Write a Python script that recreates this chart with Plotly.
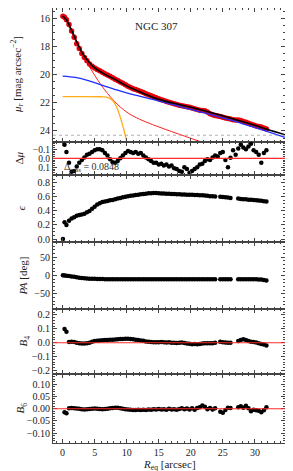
import plotly.graph_objects as go
from plotly.subplots import make_subplots

# ---------------- data ----------------
R = [0.05, 0.3, 0.6, 1.0, 1.4, 1.8, 2.2, 2.6, 3.0, 3.4, 3.8, 4.2, 4.6, 5.0, 5.4, 5.8,
     6.2, 6.6, 7.0, 7.4, 7.8, 8.2, 8.6, 9.0, 9.4, 9.8, 10.2, 10.6, 11.0, 11.4, 11.8,
     12.2, 12.6, 13.0, 13.4, 13.8, 14.2, 14.6, 15.0, 15.4, 15.8, 16.2, 16.6, 17.0,
     17.4, 17.8, 18.2, 18.6, 19.0, 19.4, 19.8, 20.2, 20.6, 21.0, 21.4, 21.8, 22.2,
     22.6, 23.0, 23.4, 23.8, 24.2, 24.6, 25.0, 25.4, 25.8, 26.2, 26.6, 27.0, 27.4,
     27.8, 28.2, 28.6, 29.0, 29.4, 29.8, 30.2, 30.6, 31.0, 31.4, 31.8]

mu_data = [15.85, 15.92, 16.1, 16.45, 16.9, 17.35, 17.8, 18.15, 18.5, 18.78, 19.02,
           19.25, 19.4, 19.52, 19.63, 19.73, 19.83, 19.93, 20.03, 20.12, 20.22, 20.32,
           20.42, 20.52, 20.62, 20.72, 20.82, 20.92, 21.0, 21.06, 21.13, 21.2, 21.27,
           21.35, 21.42, 21.5, 21.57, 21.64, 21.71, 21.78, 21.84, 21.9, 21.96, 22.02,
           22.07, 22.12, 22.17, 22.21, 22.24, 22.28, 22.32, 22.37, 22.42, 22.47, 22.52,
           22.55, 22.57, 22.66, 22.78, 22.85, 22.9, 22.94, 22.98, 23.03, 23.08, 23.12,
           23.15, 23.2, 23.22, 23.22, 23.25, 23.32, 23.38, 23.45, 23.52, 23.58, 23.64,
           23.69, 23.72, 23.78, 23.86]

model_R = [0, 0.5, 1, 1.5, 2, 2.5, 3, 3.5, 4, 5, 6, 7, 8, 10, 12, 14, 16, 18, 20,
           22, 24, 26, 28, 30, 32, 34.7]
model_mu = [15.85, 16.05, 16.45, 16.95, 17.45, 17.95, 18.4, 18.75, 19.05, 19.52, 19.82,
            20.07, 20.3, 20.8, 21.22, 21.6, 21.88, 22.1, 22.32, 22.55, 22.8, 23.06,
            23.33, 23.6, 23.9, 24.27]

disk_R = [0, 2, 4, 6, 8, 10, 12, 14, 16, 18, 20, 22, 24, 26, 28, 30, 32, 34.7]
disk_mu = [20.1, 20.2, 20.42, 20.73, 21.02, 21.3, 21.53, 21.76, 21.98, 22.22, 22.47,
           22.7, 22.95, 23.2, 23.47, 23.75, 24.05, 24.45]

bulge_R = [0, 0.5, 1, 1.5, 2, 3, 4, 5, 6, 7, 8, 9, 10, 11, 12, 13, 14, 15, 16, 17,
           18, 19, 20, 21, 22]
bulge_mu = [15.9, 16.15, 16.6, 17.1, 17.6, 18.5, 19.3, 20.05, 20.73, 21.33, 21.85,
            22.3, 22.66, 22.94, 23.16, 23.36, 23.54, 23.71, 23.88, 24.04, 24.2, 24.36,
            24.52, 24.68, 24.84]

bar_R = [0, 2, 4, 6, 6.5, 7, 7.5, 8, 8.5, 9, 9.5, 10.1]
bar_mu = [21.56, 21.56, 21.56, 21.57, 21.58, 21.62, 21.72, 21.95, 22.38, 23.02, 23.82,
          24.9]

sky_limit = 24.3
rms_text = "0.0848"

dmu = [None, -0.15, -0.07, 0.05, 0.15, 0.14, 0.09, 0.05, 0.02, -0.01, -0.04, -0.05,
       -0.07, -0.09, -0.1, -0.1, -0.09, -0.06, -0.03, 0.01, 0.045, 0.05, 0.03, 0.0,
       -0.03, -0.06, -0.08, -0.07, -0.06, -0.07, -0.05, -0.06, -0.03, -0.01, 0.01,
       0.03, 0.05, 0.05, 0.07, 0.06, 0.08, 0.07, 0.09, 0.08, 0.11, 0.12, 0.14, 0.15,
       0.1, 0.12, 0.16, 0.14, 0.12, 0.1, 0.07, 0.06, 0.03, 0.01, 0.02, -0.01, -0.03,
       -0.02, -0.06, -0.07, 0.02, 0.1, -0.005, -0.09, -0.04, -0.11, -0.15, -0.12,
       -0.1, -0.13, -0.16, -0.09, -0.07, -0.04, 0.05, -0.06, -0.09]

eps = [0.0, 0.24, 0.2, 0.26, 0.29, 0.31, 0.33, 0.34, 0.35, 0.36, 0.38, 0.4, 0.43,
       0.46, 0.49, 0.51, 0.525, 0.535, 0.54, 0.55, 0.555, 0.565, 0.575, 0.585, 0.595,
       0.6, 0.61, 0.615, 0.62, 0.625, 0.63, 0.635, 0.64, 0.645, 0.65, 0.652, 0.655,
       0.653, 0.65, 0.648, 0.646, 0.645, 0.643, 0.642, 0.64, 0.638, 0.636, 0.634,
       0.632, 0.63, 0.63, 0.628, 0.626, 0.625, 0.624, 0.622, 0.62, 0.615, 0.61, 0.608,
       0.605, None, 0.6, 0.598, 0.595, 0.59, 0.585, None, None, 0.575, 0.57, 0.565,
       0.565, 0.56, 0.558, 0.556, 0.553, 0.548, 0.543, 0.538, 0.535]

pa = [0.5, 0.0, -0.5, -1.5, -2.5, -3.5, -5, -6, -7, -7.5, -8, -8.5, -9, -9, -9.5,
      -9.5, -9.5, -9.8, -9.8, -10, -10, -10, -10, -10, -10, -10, -10, -10, -10, -10,
      -10, -10, -10, -10, -10, -10, -10, -10, -10, -10, -10, -10, -10, -10, -10, -10,
      -10, -10, -10, -10, -10, -10, -10, -10, -10, -10, -10, -10, -10, -10, -10, None,
      -10, -10, -10, -10, -10, None, None, -10, -10, -10, -10, -10, -10, -10, -10,
      -10.5, -11, -12, -13.5]

b4 = [None, 0.1, 0.08, 0.005, 0.008, 0.005, 0.0, -0.003, -0.005, -0.005, -0.003,
      0.0, 0.008, 0.012, 0.015, 0.017, 0.018, 0.02, 0.02, 0.021, 0.022, 0.024, 0.026,
      0.027, 0.028, 0.029, 0.029, 0.028, 0.025, 0.022, 0.02, 0.017, 0.014, 0.01,
      0.008, 0.006, 0.004, 0.003, 0.004, 0.005, 0.003, 0.002, 0.003, 0.001, 0.0,
      -0.002, 0.0, 0.002, -0.002, -0.005, -0.007, -0.01, -0.008, -0.01, -0.008,
      -0.005, -0.004, -0.003, -0.004, -0.003, 0.0, None, 0.008, 0.004, 0.002, 0.0,
      0.0, None, None, 0.012, 0.02, 0.025, 0.02, 0.012, 0.008, 0.005, 0.002, -0.003,
      -0.008, -0.012, -0.02]

b6 = [None, -0.014, -0.018, 0.002, 0.003, 0.002, 0.001, 0.0, -0.002, -0.003, -0.002,
      -0.001, 0.0, 0.001, 0.0, -0.001, -0.002, -0.001, 0.0, 0.002, 0.003, 0.004,
      0.004, 0.002, 0.0, -0.002, -0.003, -0.004, -0.005, -0.005, -0.004, -0.005,
      -0.004, -0.005, -0.003, -0.004, -0.002, -0.003, -0.001, -0.003, -0.002, -0.004,
      0.0, -0.003, -0.002, -0.004, -0.001, 0.002, -0.002, 0.001, -0.003, 0.002,
      -0.004, 0.003, 0.006, 0.013, 0.008, -0.002, 0.003, -0.003, 0.002, None, -0.012,
      -0.016, -0.005, 0.004, 0.003, None, None, 0.006, 0.01, 0.004, 0.012, 0.002,
      -0.01, -0.004, -0.006, -0.008, -0.014, -0.006, 0.006]

x_ticks = [0, 5, 10, 15, 20, 25, 30]

# ---------------- figure ----------------
FONT = "Liberation Serif"
TXT = "#222"
fig = make_subplots(rows=6, cols=1, shared_xaxes=True, vertical_spacing=0)

fig.add_trace(go.Scatter(x=bulge_R, y=bulge_mu, mode="lines", line_shape="spline",
                         line=dict(color="#ff2020", width=1)), row=1, col=1)
fig.add_trace(go.Scatter(x=bar_R, y=bar_mu, mode="lines", line_shape="spline",
                         line=dict(color="#ffae1a", width=1.3)), row=1, col=1)
fig.add_trace(go.Scatter(x=R, y=mu_data, mode="markers",
                         marker=dict(color="#e8000b", size=5.5)), row=1, col=1)
fig.add_trace(go.Scatter(x=disk_R, y=disk_mu, mode="lines", line_shape="spline",
                         line=dict(color="#1f2fff", width=1.3)), row=1, col=1)
fig.add_trace(go.Scatter(x=model_R, y=model_mu, mode="lines", line_shape="spline",
                         line=dict(color="black", width=1.6)), row=1, col=1)

mk = dict(color="black", size=4.5)
fig.add_trace(go.Scatter(x=R, y=dmu, mode="markers", marker=mk), row=2, col=1)
fig.add_trace(go.Scatter(x=R, y=eps, mode="markers", marker=mk), row=3, col=1)
fig.add_trace(go.Scatter(x=R, y=pa, mode="markers", marker=mk), row=4, col=1)
fig.add_trace(go.Scatter(x=R, y=b4, mode="markers", marker=mk), row=5, col=1)
fig.add_trace(go.Scatter(x=R, y=b6, mode="markers", marker=mk), row=6, col=1)

domains = [[0.692, 1.0], [0.616, 0.692], [0.462, 0.616], [0.308, 0.462],
           [0.1586, 0.308], [0.0, 0.1586]]

axis_common = dict(showgrid=False, zeroline=False, showline=True, linecolor="#444",
                   linewidth=1, mirror="allticks", ticks="inside", ticklen=4,
                   tickcolor="#444", tickfont=dict(family=FONT, size=10, color=TXT))

for i in range(6):
    xa = "xaxis" if i == 0 else f"xaxis{i+1}"
    fig.layout[xa].update(range=[-1.5, 34.7], tickvals=x_ticks,
                          showticklabels=(i == 5), **axis_common)
    fig.layout[xa].minor.update(ticks="inside", ticklen=2, tickcolor="#444",
                                dtick=1, tick0=0)

ycfg = [
    dict(range=[24.78, 15.27], tickvals=[16, 18, 20, 22, 24], mdt=0.5,
         title="<i>μ<sub>r</sub></i> [mag arcsec<sup>−2</sup>]", cx=17),
    dict(range=[0.186, -0.181], tickvals=[-0.1, 0.0, 0.1], fmt=".1f", mdt=0.02,
         title="Δ<i>μ</i>", cx=19),
    dict(range=[-0.043, 0.91], tickvals=[0, 0.2, 0.4, 0.6, 0.8], fmt=".1f", mdt=0.05,
         title="<i>ϵ</i>", cx=21),
    dict(range=[-91, 91], tickvals=[-50, 0, 50], mdt=10,
         title="<i>PA</i> [deg]", cx=23),
    dict(range=[-0.225, 0.243], tickvals=[-0.2, -0.1, 0.0, 0.1, 0.2], fmt=".1f",
         mdt=0.02, title="<i>B</i><sub>4</sub>", cx=24),
    dict(range=[-0.14, 0.142], tickvals=[-0.1, -0.05, 0.0, 0.05, 0.1], fmt=".2f",
         mdt=0.01, title="<i>B</i><sub>6</sub>", cx=21),
]
# plot area (page pixels): x 53..285, y 8..443.  The page body adds an 8 px
# offset, so the figure itself is 285x463 with margins measured from there.
L, PW = 53, 232
for i, c in enumerate(ycfg):
    ya = "yaxis" if i == 0 else f"yaxis{i+1}"
    fig.layout[ya].update(domain=domains[i], range=c["range"], tickvals=c["tickvals"],
                          automargin=False, **axis_common)
    if "fmt" in c:
        fig.layout[ya].tickformat = c["fmt"]
    fig.layout[ya].minor.update(ticks="inside", ticklen=2, tickcolor="#444",
                                dtick=c["mdt"])
    fig.add_annotation(text=c["title"], xref="paper", yref="paper",
                       x=(c["cx"] - L) / PW, y=sum(domains[i]) / 2,
                       xanchor="center", yanchor="middle", textangle=-90,
                       showarrow=False, font=dict(family=FONT, size=11, color=TXT))

fig.layout.yaxis2.tickfont.size = 9.5

fig.add_annotation(text="<i>R</i><sub>eq</sub> [arcsec]", xref="paper", yref="paper",
                   x=0.5, y=-0.05, xanchor="center", yanchor="middle",
                   showarrow=False, font=dict(family=FONT, size=11, color=TXT))

fig.add_shape(type="line", xref="x domain", yref="y", x0=0, x1=1, y0=sky_limit,
              y1=sky_limit, line=dict(color="#999", width=0.8, dash="dot"))
for r in (2, 5, 6):
    fig.add_shape(type="line", xref=f"x{r} domain", yref=f"y{r}", x0=0, x1=1, y0=0,
                  y1=0, line=dict(color="#ff2a2a", width=1.2), layer="above")

fig.add_annotation(text="NGC 307", xref="paper", yref="paper", x=0.448, y=0.977,
                   showarrow=False, font=dict(family=FONT, size=11, color=TXT))
fig.add_annotation(text="Δ<sub>rms</sub> = " + rms_text, xref="x2 domain",
                   yref="y2 domain", x=0.04, y=0.22, xanchor="left", yanchor="middle",
                   showarrow=False, font=dict(family=FONT, size=10, color="#333"))

fig.update_layout(width=285, height=463, showlegend=False,
                  margin=dict(l=45, r=8, t=0, b=28),
                  paper_bgcolor="white", plot_bgcolor="white",
                  font=dict(family=FONT, size=10, color=TXT))

fig.write_html("out.html")
